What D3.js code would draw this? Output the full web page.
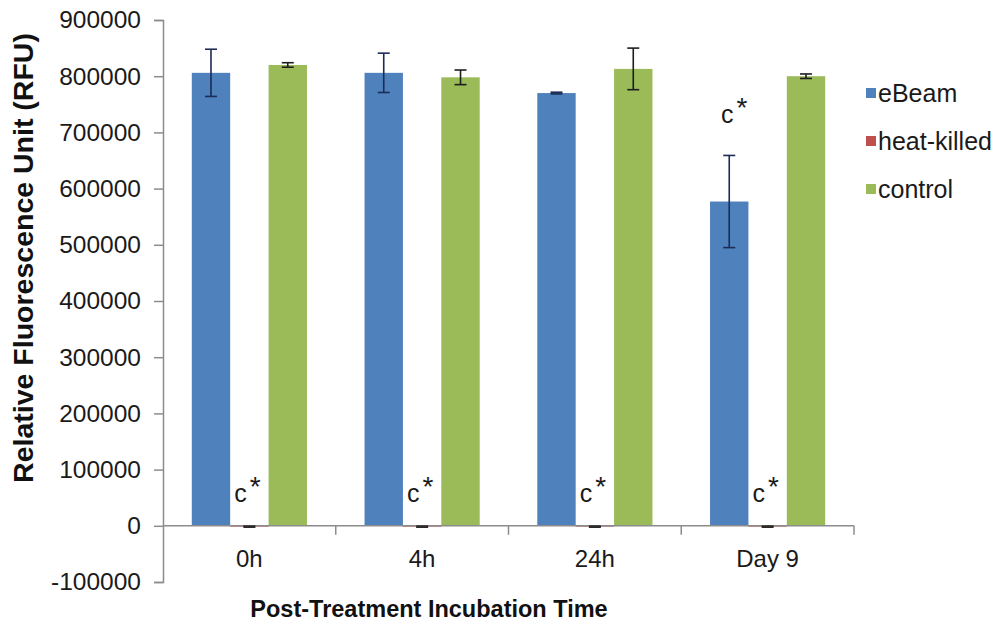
<!DOCTYPE html>
<html>
<head>
<meta charset="utf-8">
<script src="https://cdn.jsdelivr.net/npm/d3@7"></script>
<style>
  html, body { margin: 0; padding: 0; background: #fff; }
  svg { display: block; font-family: Arial, "Liberation Sans", sans-serif; }
</style>
</head>
<body>
<svg id="chart" width="1005" height="621"></svg>
<script>
// Post-treatment incubation times (x categories)
const categories = ["0h", "4h", "24h", "Day 9"];
const seriesNames = ["eBeam", "heat-killed", "control"];

// Mean fluorescence (RFU) per series, one value per category
const eBeamValues      = [806000, 806000, 770000, 577000];
const heatKilledValues = [-1500, -1500, -1500, -1500];
const controlValues    = [820000, 798000, 813000, 800000];

// Error bar half-widths (RFU)
const eBeamErrors      = [42000, 35000, 1500, 82000];
const heatKilledErrors = [1000, 1000, 1000, 1000];
const controlErrors    = [4000, 13000, 37000, 4000];

// Significance markers: [series, category]
const markers = [
  ["heat-killed", "0h"], ["heat-killed", "4h"], ["heat-killed", "24h"],
  ["heat-killed", "Day 9"], ["eBeam", "Day 9"]
];

const yTicks = [-100000, 0, 100000, 200000, 300000, 400000, 500000, 600000, 700000, 800000, 900000];

const colors = { "eBeam": "#4F81BD", "heat-killed": "#C0504D", "control": "#9BBB59" };
const errColors = { "eBeam": "#1c2c55", "heat-killed": "#2a2a2a", "control": "#1e1e1e" };

const valuesBySeries = { "eBeam": eBeamValues, "heat-killed": heatKilledValues, "control": controlValues };
const errorsBySeries = { "eBeam": eBeamErrors, "heat-killed": heatKilledErrors, "control": controlErrors };

const rows = [];
seriesNames.forEach(s => categories.forEach((c, i) => {
  rows.push({ series: s, cat: c, value: valuesBySeries[s][i], err: errorsBySeries[s][i] });
}));

const svg = d3.select("#chart");
svg.append("rect").attr("width", 1005).attr("height", 621).attr("fill", "#fff");

const plot = { left: 163, right: 854, top: 20, bottom: 582 };

const y = d3.scaleLinear().domain([-100000, 900000]).range([plot.bottom, plot.top]);
const x0 = d3.scaleBand().domain(categories).range([plot.left, plot.right]).padding(0);
const x1 = d3.scaleBand().domain(seriesNames).range([0, x0.bandwidth()])
  .paddingInner(0).paddingOuter(0.75);

const textColor = "#1a1a1a";
const axisColor = "#8c8c8c";

// Bars
svg.append("g").selectAll("rect").data(rows).join("rect")
  .attr("x", d => x0(d.cat) + x1(d.series))
  .attr("width", x1.bandwidth())
  .attr("y", d => y(Math.max(0, d.value)))
  .attr("height", d => Math.abs(y(d.value) - y(0)))
  .attr("fill", d => colors[d.series]);

// Y axis (plain hyphen for negatives)
const yAxis = d3.axisLeft(y).tickValues(yTicks).tickSize(9).tickPadding(13)
  .tickFormat(d => String(d));
const gy = svg.append("g").attr("transform", `translate(${plot.left},0)`).call(yAxis);
gy.select(".domain").attr("stroke", axisColor).attr("stroke-width", 1.5);
gy.selectAll(".tick line").attr("stroke", axisColor).attr("stroke-width", 1.5);
gy.selectAll(".tick text").attr("fill", textColor).attr("font-size", 24.5)
  .attr("font-family", "Arial, 'Liberation Sans', sans-serif");

// X axis along the zero line, ticks between categories
const gx = svg.append("g").attr("transform", `translate(0,${y(0)})`);
gx.append("line").attr("x1", plot.left).attr("x2", plot.right)
  .attr("stroke", axisColor).attr("stroke-width", 1.5);
const boundaries = categories.map(c => x0(c) + x0.bandwidth());
gx.selectAll("line.sep").data(boundaries).join("line").attr("class", "sep")
  .attr("x1", d => d).attr("x2", d => d).attr("y1", 0).attr("y2", 9)
  .attr("stroke", axisColor).attr("stroke-width", 1.5);
gx.selectAll("text").data(categories).join("text")
  .attr("x", d => x0(d) + x0.bandwidth() / 2)
  .attr("y", 41)
  .attr("text-anchor", "middle")
  .attr("font-size", 24).attr("fill", textColor)
  .text(d => d);

// Error bars
const eb = svg.append("g").selectAll("g").data(rows).join("g")
  .attr("transform", d => `translate(${x0(d.cat) + x1(d.series) + x1.bandwidth() / 2},0)`);
eb.append("line")
  .attr("y1", d => y(d.value + d.err)).attr("y2", d => y(d.value - d.err))
  .attr("stroke", d => errColors[d.series]).attr("stroke-width", 1.6);
eb.append("line")
  .attr("x1", -6).attr("x2", 6)
  .attr("y1", d => y(d.value + d.err)).attr("y2", d => y(d.value + d.err))
  .attr("stroke", d => errColors[d.series]).attr("stroke-width", 1.6);
eb.append("line")
  .attr("x1", -6).attr("x2", 6)
  .attr("y1", d => y(d.value - d.err)).attr("y2", d => y(d.value - d.err))
  .attr("stroke", d => errColors[d.series]).attr("stroke-width", 1.6);

// Significance labels "c*" above each marked bar
const rowOf = (s, c) => rows.find(r => r.series === s && r.cat === c);
const mk = svg.append("g").selectAll("text").data(markers).join("text")
  .attr("x", d => x0(d[1]) + x1(d[0]) + x1.bandwidth() / 2 + (d[0] === "eBeam" ? 5 : -2))
  .attr("y", d => {
    const r = rowOf(d[0], d[1]);
    const top = Math.max(0, r.value + r.err);
    return y(top) - (d[0] === "eBeam" ? 32 : 24);
  })
  .attr("text-anchor", "middle")
  .attr("font-size", 25).attr("fill", textColor);
mk.append("tspan").text("c");
mk.append("tspan").attr("dx", 3).attr("dy", -6).attr("font-size", 28).text("*");

// Legend
const legend = svg.append("g").selectAll("g").data(seriesNames).join("g")
  .attr("transform", (d, i) => `translate(866,${93 + i * 48})`);
legend.append("rect").attr("x", 0).attr("y", -5).attr("width", 10).attr("height", 10)
  .attr("fill", d => colors[d]);
legend.append("text").attr("x", 12).attr("y", 0).attr("dy", "0.35em")
  .attr("font-size", 25).attr("fill", textColor).text(d => d);

// Axis titles
svg.append("text")
  .attr("transform", `translate(23,${(plot.top + plot.bottom) / 2 - 43}) rotate(-90)`)
  .attr("text-anchor", "middle").attr("dy", "0.35em")
  .attr("font-size", 28.5).attr("font-weight", "bold").attr("fill", "#111")
  .text("Relative Fluorescence Unit (RFU)");
svg.append("text")
  .attr("x", 429).attr("y", 617)
  .attr("text-anchor", "middle")
  .attr("font-size", 23.5).attr("font-weight", "bold").attr("fill", "#111")
  .text("Post-Treatment Incubation Time");
</script>
</body>
</html>
